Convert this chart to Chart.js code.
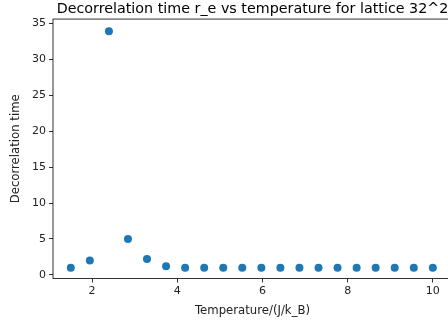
<!DOCTYPE html>
<html>
<head>
<meta charset="utf-8">
<script src="https://cdn.jsdelivr.net/npm/chart.js@4"></script>
<style>
  html, body { margin: 0; padding: 0; background: #fff; overflow: hidden; }
  #decor-chart { display: block; }
</style>
</head>
<body>
<canvas id="decor-chart" width="456" height="326"></canvas>
<script>
// temperatures (J/k_B), 20 evenly spaced points from 1.5 to 10
const temperatures = [
  1.5, 1.947, 2.395, 2.842, 3.289, 3.737, 4.184, 4.632, 5.079, 5.526,
  5.974, 6.421, 6.868, 7.316, 7.763, 8.211, 8.658, 9.105, 9.553, 10.0,
];
const decorrTimes = [
  1, 2, 33.9, 5, 2.2, 1.2, 1, 1, 1, 1,
  1, 1, 1, 1, 1, 1, 1, 1, 1, 1,
];
const xTicks = [2, 4, 6, 8, 10];
const yTicks = [0, 5, 10, 15, 20, 25, 30, 35];

const points = temperatures.map((t, i) => ({ x: t, y: decorrTimes[i] }));

// matplotlib-like frame around the plot area (right side falls off the page)
const frame = {
  id: "frame",
  afterDatasetsDraw(chart) {
    const { ctx, chartArea } = chart;
    ctx.save();
    ctx.strokeStyle = "#000";
    ctx.lineWidth = 0.8;
    ctx.strokeRect(chartArea.left, chartArea.top,
      chartArea.right - chartArea.left, chartArea.bottom - chartArea.top);
    ctx.restore();
  },
};

const tickFont = { family: "DejaVu Sans", size: 11 };
const labelFont = { family: "DejaVu Sans", size: 11.7 };

new Chart(document.getElementById("decor-chart"), {
  type: "scatter",
  data: {
    datasets: [
      {
        data: points,
        backgroundColor: "#1f77b4",
        borderColor: "#1f77b4",
        pointRadius: 4,
        pointHoverRadius: 4,
        borderWidth: 0,
      },
    ],
  },
  options: {
    responsive: false,
    animation: false,
    layout: { padding: 0 },
    plugins: {
      legend: { display: false },
      tooltip: { enabled: false },
      title: {
        display: true,
        text: "Decorrelation time r_e vs temperature for lattice 32^2",
        fullSize: false,
        color: "#000",
        font: { family: "DejaVu Sans", size: 14.3, weight: "normal", lineHeight: 1.2 },
        padding: { top: 0.7, bottom: 1.2 },
      },
    },
    scales: {
      x: {
        type: "linear",
        min: 1.082,
        max: 10.45,
        afterBuildTicks: (scale) => {
          scale.ticks = xTicks.map((v) => ({ value: v }));
        },
        afterFit: (scale) => {
          scale.height = 47.5;
        },
        grid: {
          drawOnChartArea: false,
          drawTicks: true,
          tickLength: 4,
          tickColor: "#000",
          tickWidth: 0.8,
        },
        border: { display: false },
        ticks: { color: "#222", font: tickFont, padding: 2, maxRotation: 0 },
        title: {
          display: true,
          text: "Temperature/(J/k_B)",
          color: "#222",
          font: labelFont,
          padding: { top: 0, bottom: 8 },
        },
      },
      y: {
        type: "linear",
        min: -0.5,
        max: 35.6,
        afterBuildTicks: (scale) => {
          scale.ticks = yTicks.map((v) => ({ value: v }));
        },
        afterFit: (scale) => {
          scale.width = 53;
        },
        grid: {
          drawOnChartArea: false,
          drawTicks: true,
          tickLength: 4,
          tickColor: "#000",
          tickWidth: 0.8,
        },
        border: { display: false },
        ticks: { color: "#222", font: tickFont, padding: 3 },
        title: {
          display: true,
          text: "Decorrelation time",
          color: "#222",
          font: labelFont,
          padding: { top: 9, bottom: 0 },
        },
      },
    },
  },
  plugins: [frame],
});
</script>
</body>
</html>
